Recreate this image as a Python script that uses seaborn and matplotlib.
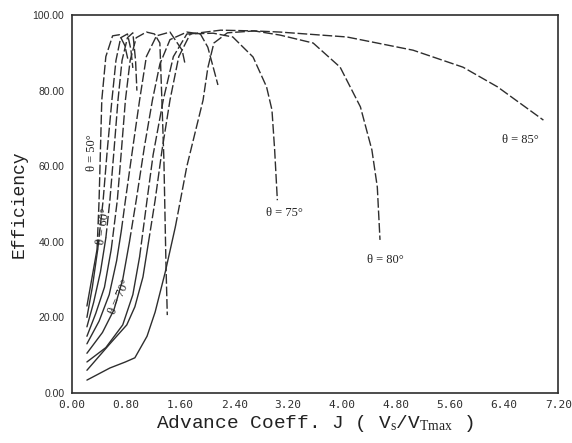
import matplotlib
matplotlib.use("Agg")
import matplotlib.pyplot as plt
import seaborn as sns
from matplotlib.ticker import MultipleLocator

# efficiency curves for blade pitch angle theta
j_50 = [0.22, 0.27, 0.32, 0.37, 0.40, 0.44, 0.50, 0.60, 0.70, 0.78, 0.83]
e_50 = [23.0, 28.0, 33.0, 38.0, 51.0, 77.5, 89.0, 94.5, 94.8, 92.0, 88.0]

j_55 = [0.22, 0.30, 0.38, 0.46, 0.52, 0.59, 0.65, 0.72, 0.82, 0.87, 0.90]
e_55 = [20.0, 28.0, 38.0, 51.0, 64.0, 77.5, 88.0, 94.0, 95.0, 91.0, 86.0]

j_60 = [0.22, 0.32, 0.42, 0.50, 0.56, 0.62, 0.68, 0.74, 0.82, 0.90, 0.94, 0.96]
e_60 = [17.5, 24.0, 32.0, 41.0, 51.0, 64.0, 77.5, 88.0, 94.0, 95.3, 88.0, 80.0]

j_65 = [0.22, 0.35, 0.48, 0.58, 0.67, 0.73, 0.79, 0.86, 0.95, 1.10, 1.22, 1.30, 1.33, 1.36, 1.39, 1.41]
e_65 = [15.0, 21.0, 28.0, 38.0, 51.0, 64.0, 77.5, 88.0, 94.0, 95.5, 95.0, 92.6, 77.5, 61.6, 34.4, 20.6]

j_68 = [0.22, 0.40, 0.55, 0.66, 0.73, 0.79, 0.90, 1.00, 1.10, 1.25, 1.45, 1.63, 1.67]
e_68 = [13.0, 19.0, 26.0, 35.0, 43.0, 51.0, 65.0, 77.5, 89.0, 94.5, 95.5, 90.7, 87.3]

j_70 = [0.22, 0.45, 0.62, 0.75, 0.85, 0.95, 1.07, 1.19, 1.30, 1.45, 1.70, 1.90, 2.01, 2.09, 2.16]
e_70 = [10.5, 16.0, 22.0, 30.0, 40.0, 51.0, 65.0, 77.5, 87.0, 93.5, 95.5, 95.0, 91.5, 86.2, 81.5]

j_75 = [0.22, 0.50, 0.75, 0.90, 1.00, 1.11, 1.20, 1.35, 1.50, 1.70, 2.09, 2.38, 2.68, 2.88, 2.96, 3.00, 3.04]
e_75 = [8.2, 12.0, 18.0, 26.0, 36.0, 51.0, 63.0, 77.5, 89.0, 95.0, 95.2, 94.2, 88.9, 81.0, 74.9, 64.3, 51.0]

j_80 = [0.22, 0.56, 0.81, 0.93, 1.05, 1.13, 1.23, 1.33, 1.45, 1.58, 1.75, 2.20, 2.70, 3.08, 3.57, 3.97, 4.27, 4.44, 4.52, 4.56]
e_80 = [6.0, 13.0, 18.0, 22.8, 30.7, 39.7, 51.0, 64.0, 77.5, 89.0, 95.0, 96.0, 95.8, 94.7, 92.6, 86.2, 75.7, 64.3, 54.5, 40.5]

j_85 = [0.22, 0.56, 0.79, 0.93, 1.11, 1.23, 1.38, 1.53, 1.70, 1.94, 2.01, 2.10, 2.30, 2.70, 3.08, 4.07, 5.05, 5.79, 6.30, 6.98]
e_85 = [3.4, 6.6, 8.2, 9.3, 15.0, 21.4, 32.0, 44.0, 60.0, 77.5, 86.0, 92.6, 95.3, 95.8, 95.5, 94.2, 90.7, 86.2, 81.0, 72.2]

curves = [(j_50, e_50), (j_55, e_55), (j_60, e_60), (j_65, e_65), (j_68, e_68),
          (j_70, e_70), (j_75, e_75), (j_80, e_80), (j_85, e_85)]

x_ticks = [0.0, 0.8, 1.6, 2.4, 3.2, 4.0, 4.8, 5.6, 6.4, 7.2]
y_ticks = [0, 20, 40, 60, 80, 100]

sns.set_style("white")
plt.rcParams["mathtext.fontset"] = "custom"
plt.rcParams["mathtext.rm"] = "Liberation Serif"
plt.rcParams["mathtext.it"] = "Liberation Serif"

fig = plt.figure(figsize=(5.72, 4.43), dpi=100)
ax = fig.add_axes([0.126, 0.113, 0.85, 0.853])

ink = "#2e2e2e"
for jj, ee in curves:
    k = next(i for i, v in enumerate(ee) if v > 35)
    sns.lineplot(x=jj[:k + 1], y=ee[:k + 1], sort=False, estimator=None,
                 color=ink, lw=1.0, ax=ax)
    sns.lineplot(x=jj[k:], y=ee[k:], sort=False, estimator=None,
                 color=ink, lw=1.0, ax=ax).lines[-1].set_dashes((7, 2))

lab = dict(family="Liberation Serif", fontsize=9, color="#222222",
           ha="center", va="center")
ax.text(0.29, 63.5, "θ = 50°", rotation=90, **lab)
ax.text(0.47, 44.0, "θ = 60°", rotation=82, **lab)
ax.text(0.70, 25.5, "θ = 70°", rotation=66, **lab)
ax.text(3.15, 47.5, "θ = 75°", **lab)
ax.text(4.64, 35.2, "θ = 80°", **lab)
ax.text(6.64, 67.0, "θ = 85°", **lab)

ax.set_xlim(0, 7.2)
ax.set_ylim(0, 100)
ax.set_xticks(x_ticks)
ax.set_xticklabels([f"{v:.2f}" for v in x_ticks], family="DejaVu Sans Mono", fontsize=8)
ax.set_yticks(y_ticks)
ax.set_yticklabels([f"{v:.2f}" for v in y_ticks], family="Liberation Sans", fontsize=7.5)
ax.xaxis.set_minor_locator(MultipleLocator(0.16))
ax.yaxis.set_minor_locator(MultipleLocator(2))
ax.tick_params(axis="x", which="major", direction="in", length=5, width=1, pad=5, colors=ink)
ax.tick_params(axis="x", which="minor", direction="in", length=3, width=0.8, colors=ink)
ax.tick_params(axis="y", which="major", direction="inout", length=7, width=1, pad=2, colors=ink)
ax.tick_params(axis="y", which="minor", direction="inout", length=4, width=0.8, colors=ink)
for s in ax.spines.values():
    s.set_color(ink)
    s.set_linewidth(1.2)

ax.set_xlabel("Advance Coeff. J ( V$_s$/V$_{Tmax}$ )", family="Liberation Mono",
              fontsize=14, color="#222222", labelpad=2)
ax.set_ylabel("Efficiency", family="Liberation Mono", fontsize=13,
              color="#222222", labelpad=4)

fig.savefig("out.png", dpi=100)
